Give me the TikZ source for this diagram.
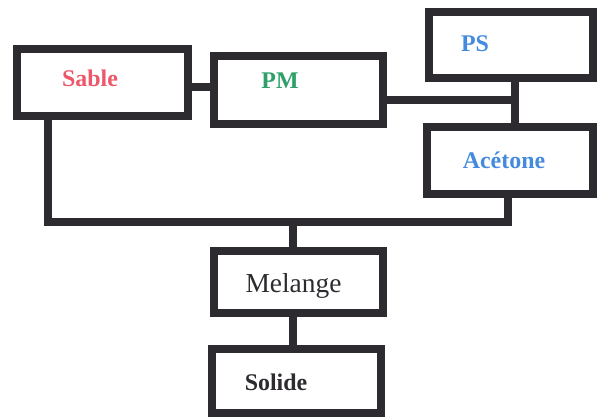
\documentclass[tikz,border=0pt]{standalone}
\usepackage{fontspec}
\setmainfont{Liberation Serif}
\definecolor{sablered}{RGB}{236,88,106}
\definecolor{pmgreen}{RGB}{46,160,106}
\definecolor{psblue}{RGB}{68,138,222}
\definecolor{inkgray}{RGB}{45,42,48}
\begin{document}
\begin{tikzpicture}[x=0.025cm, y=-0.025cm,
        box/.style={draw=inkgray, line width=0.19cm, minimum width=4.225cm, minimum height=1.675cm, inner sep=0pt},
        lbl/.style={inner sep=0pt, font=\fontsize{17}{20}\selectfont\bfseries},
        wire/.style={draw=inkgray, line width=0.18cm}]
        \useasboundingbox (0,0) rectangle (600,417);
        % boxes
        \node[box, minimum width=4.275cm] (sable) at (102.5,82.5) {};
        \node[box, minimum height=1.7cm] (pm) at (298.5,90) {};
        \node[box, minimum width=4.1cm, minimum height=1.65cm] (ps) at (511,45) {};
        \node[box, minimum width=4.15cm] (acetone) at (510,160.5) {};
        \node[box, minimum height=1.55cm] (melange) at (298.5,282) {};
        \node[box, minimum height=1.6cm] (solide) at (296.5,381) {};
        % texts
        \node[lbl, text=sablered] (sable-t) at (90,78) {Sable};
        \node[lbl, text=pmgreen] (pm-t) at (280,81) {PM};
        \node[lbl, text=psblue] (ps-t) at (475,44) {PS};
        \node[lbl, text=psblue] (acetone-t) at (504,160) {Acétone};
        \node[lbl, font=\fontsize{19.5}{23}\selectfont, text=inkgray] (melange-t) at (293.5,286) {Melange};
        \node[lbl, text=inkgray] (solide-t) at (276,382) {Solide};
        % joints
        \coordinate (sablepm) at (200,87);
        \coordinate (pmjoin) at (515,100);
        \coordinate (busl) at (48,222);
        \coordinate (busm) at (293,222);
        \coordinate (busr) at (508,222);
        % wires
        \draw[wire] (sable.east |- sablepm) -- (pm.west |- sablepm);
        \draw[wire] (pm.east |- pmjoin) -- (pmjoin);
        \draw[wire] (ps.south -| pmjoin) -- (acetone.north -| pmjoin);
        \draw[wire] (sable.south -| busl) -- (busl) -- (busr) -- (acetone.south -| busr);
        \draw[wire] (busm) -- (melange.north -| busm);
        \draw[wire] (melange.south -| busm) -- (solide.north -| busm);
\end{tikzpicture}
\end{document}
